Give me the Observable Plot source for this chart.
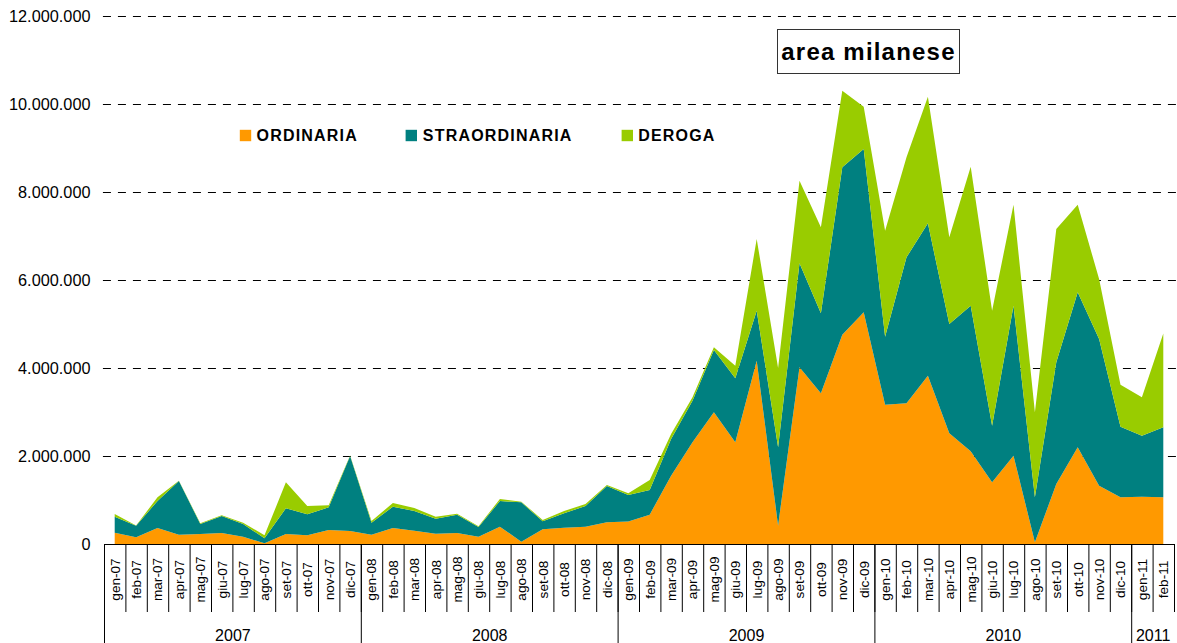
<!DOCTYPE html>
<html>
<head>
<meta charset="utf-8">
<script src="https://cdn.jsdelivr.net/npm/d3@7"></script>
<script src="https://cdn.jsdelivr.net/npm/@observablehq/plot@0.6"></script>
<style>
  body { margin: 0; background: #fff; font-family: "Liberation Sans", Arial, sans-serif; }
  #wrap { position: relative; width: 1177px; height: 643px; overflow: hidden; }
  #title { position: absolute; left: 777px; top: 29px; width: 181px; height: 43px;
           border: 1px solid #333; display: flex; align-items: center; justify-content: center;
           font-weight: bold; font-size: 24px; letter-spacing: 1.2px; background: #fff; color: #000; }
</style>
</head>
<body>
<div id="wrap"><div id="title">area milanese</div></div>
<script>
const months = [
  "gen-07","feb-07","mar-07","apr-07","mag-07","giu-07","lug-07","ago-07","set-07","ott-07","nov-07","dic-07",
  "gen-08","feb-08","mar-08","apr-08","mag-08","giu-08","lug-08","ago-08","set-08","ott-08","nov-08","dic-08",
  "gen-09","feb-09","mar-09","apr-09","mag-09","giu-09","lug-09","ago-09","set-09","ott-09","nov-09","dic-09",
  "gen-10","feb-10","mar-10","apr-10","mag-10","giu-10","lug-10","ago-10","set-10","ott-10","nov-10","dic-10",
  "gen-11","feb-11"
];
const years = ["2007","2008","2009","2010","2011"];
const yearMonthCounts = [12, 12, 12, 12, 2];
const series = ["ORDINARIA","STRAORDINARIA","DEROGA"];
const colors = ["#FF9900","#008080","#99CC00"];

const ordinaria = [
  257,152,364,212,227,250,167,15,227,197,318,295,
  212,364,303,235,250,167,394,53,333,371,394,492,
  514,666,1553,2310,2992,2310,4167,417,4015,3424,4758,5265,
  3167,3197,3826,2515,2106,1401,2008,38,1364,2197,1326,1060,
  1075,1060
].map(v => v * 1000);
const straordinaria = [
  363,264,613,1220,228,386,288,114,584,477,515,1705,
  273,484,447,341,417,219,583,894,182,326,470,826,
  600,561,833,948,1417,1455,1136,1780,2363,1819,3803,3712,
  1545,3318,3462,2485,3311,1288,3409,1022,2765,3522,3333,1607,
  1387,1591
].map(v => v * 1000);
const deroga = [
  62,5,84,8,15,16,30,68,590,190,46,10,
  38,84,68,45,23,16,46,15,30,53,45,23,
  38,228,114,75,60,288,1629,1804,1880,1954,1742,962,
  2409,2273,2878,1970,3159,2614,2295,1932,3030,1993,1364,954,
  871,2135
].map(v => v * 1000);
const yTicks = [0, 2000000, 4000000, 6000000, 8000000, 10000000, 12000000];

// long table for the stacked area
const values = [ordinaria, straordinaria, deroga];
const table = [];
series.forEach((s, k) => months.forEach((m, i) => table.push({i, month: m, series: s, value: values[k][i]})));

// category axis helpers derived from the arrays
const monthSeps = d3.range(-1, months.length).map(i => i + 0.5);
const yearStarts = d3.cumsum([0, ...yearMonthCounts]).slice(0, years.length);
const yearSeps = yearStarts.map(s => s - 0.5);
const yearInfo = years.map((y, k) => ({year: y, x: yearStarts[k] + (yearMonthCounts[k] - 1) / 2}));

const plotH = 643 - 16 - 99;
const pxVal = 12000000 / plotH;           // data units per pixel (for drop lines below axis)

const fmt = d3.formatLocale({decimal: ",", thousands: ".", grouping: [3], currency: ["", ""]}).format(",d");

const legendPos = [
  {sq: 141, tx: 152},
  {sq: 306.8, tx: 318.3},
  {sq: 522.8, tx: 533.7}
];
const legendMarks = series.flatMap((s, k) => [
  Plot.dot([s], {frameAnchor: "top-left", dx: legendPos[k].sq, dy: 119, symbol: "square", r: 6.43, fill: colors[k], stroke: null}),
  Plot.text([s], {frameAnchor: "top-left", dx: legendPos[k].tx, dy: 119, text: d => d, textAnchor: "start", lineAnchor: "middle",
                  fontSize: 16, fontWeight: "bold", fill: "#000"})
]);

const chart = Plot.plot({
  width: 1177,
  height: 643,
  marginLeft: 104,
  marginRight: 3,
  marginTop: 16,
  marginBottom: 99,
  x: {domain: [-0.5, months.length - 0.5], axis: null},
  y: {domain: [0, 12000000], axis: null},
  color: {domain: series, range: colors},
  style: {fontFamily: "'Liberation Sans', Arial, sans-serif", fontSize: "16px", color: "#000", background: "#fff", overflow: "visible"},
  marks: [
    Plot.ruleY(yTicks.filter(d => d > 0), {y: d => d, x1: -0.55, x2: months.length - 0.36, stroke: "#000", strokeDasharray: "8,7", strokeWidth: 1}),
    Plot.areaY(table, {x: "i", y: "value", fill: "series", order: series, curve: "linear"}),
    Plot.ruleY([0], {y: d => d, x1: -0.5, x2: months.length - 0.5, stroke: "#000", strokeWidth: 1}),
    Plot.ruleX(monthSeps, {x: d => d, y1: 0, y2: -68 * pxVal, stroke: "#000", strokeWidth: 1}),
    Plot.ruleX(yearSeps, {x: d => d, y1: 0, y2: -100 * pxVal, stroke: "#000", strokeWidth: 1}),
    Plot.axisY({ticks: yTicks, tickFormat: fmt, tickSize: 0, tickPadding: 14, fontSize: 16.3, label: null, anchor: "left"}),
    Plot.text(months, {x: (d, i) => i, y: 0, text: d => d, rotate: -90, textAnchor: "middle", lineAnchor: "middle", dy: 35, fontSize: 13.6, fill: "#000"}),
    Plot.text(yearInfo, {x: "x", y: 0, text: "year", textAnchor: "middle", lineAnchor: "bottom", dy: 96, fontSize: 16, fill: "#000"}),
    ...legendMarks
  ]
});
document.getElementById("wrap").prepend(chart);
// stretch legend labels horizontally like the reference
d3.select(chart).selectAll("text").filter(function() { return series.includes(this.textContent); })
  .style("letter-spacing", "1.2px");
</script>
</body>
</html>
